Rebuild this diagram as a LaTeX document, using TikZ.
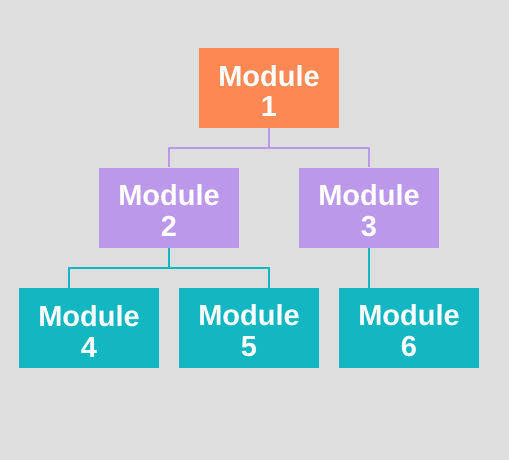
\documentclass[tikz,border=0pt]{standalone}
\usepackage{fontspec}
\setmainfont{Liberation Sans}
\definecolor{bgGray}{HTML}{DEDEDE}
\definecolor{boxOrange}{HTML}{FC8853}
\definecolor{boxPurple}{HTML}{BC98EB}
\definecolor{boxTeal}{HTML}{13B7C1}
\newcommand{\modtext}[1]{\rule{0pt}{27pt}Module\\#1}
\tikzset{
  modbox/.style={minimum width=140pt, minimum height=80pt, inner sep=0pt,
    text=white, align=center, font=\fontsize{29}{31}\selectfont\bfseries},
  purpleline/.style={draw=boxPurple, line width=2pt},
  tealline/.style={draw=boxTeal, line width=2pt}
}
\begin{document}
\begin{tikzpicture}[x=1pt,y=-1pt]
        \fill[bgGray] (0,0) rectangle (509,460);
        \useasboundingbox (0,0) rectangle (509,460);
        % boxes
        \node[modbox, fill=boxOrange] (m1) at (269,88) {\modtext{1}};
        \node[modbox, fill=boxPurple] (m2) at (169,207.5) {\modtext{2}};
        \node[modbox, fill=boxPurple] (m3) at (369,207.5) {\modtext{3}};
        \node[modbox, fill=boxTeal] (m4) at (89,328) {\modtext{4}};
        \node[modbox, fill=boxTeal] (m5) at (249,328) {\modtext{5}};
        \node[modbox, fill=boxTeal] (m6) at (409,328) {\modtext{6}};
        % connectors
        \draw[purpleline] (m1.south) -- ++(0,20) -| (m2.north);
        \draw[purpleline] (m1.south) -- ++(0,20) -| (m3.north);
        \draw[tealline] (m2.south) -- ++(0,20.5) -| ([xshift=-20pt]m4.north);
        \draw[tealline] (m2.south) -- ++(0,20.5) -| ([xshift=20pt]m5.north);
        \draw[tealline] (m3.south) -- (m3.south |- m6.north);
      \end{tikzpicture}
\end{document}
